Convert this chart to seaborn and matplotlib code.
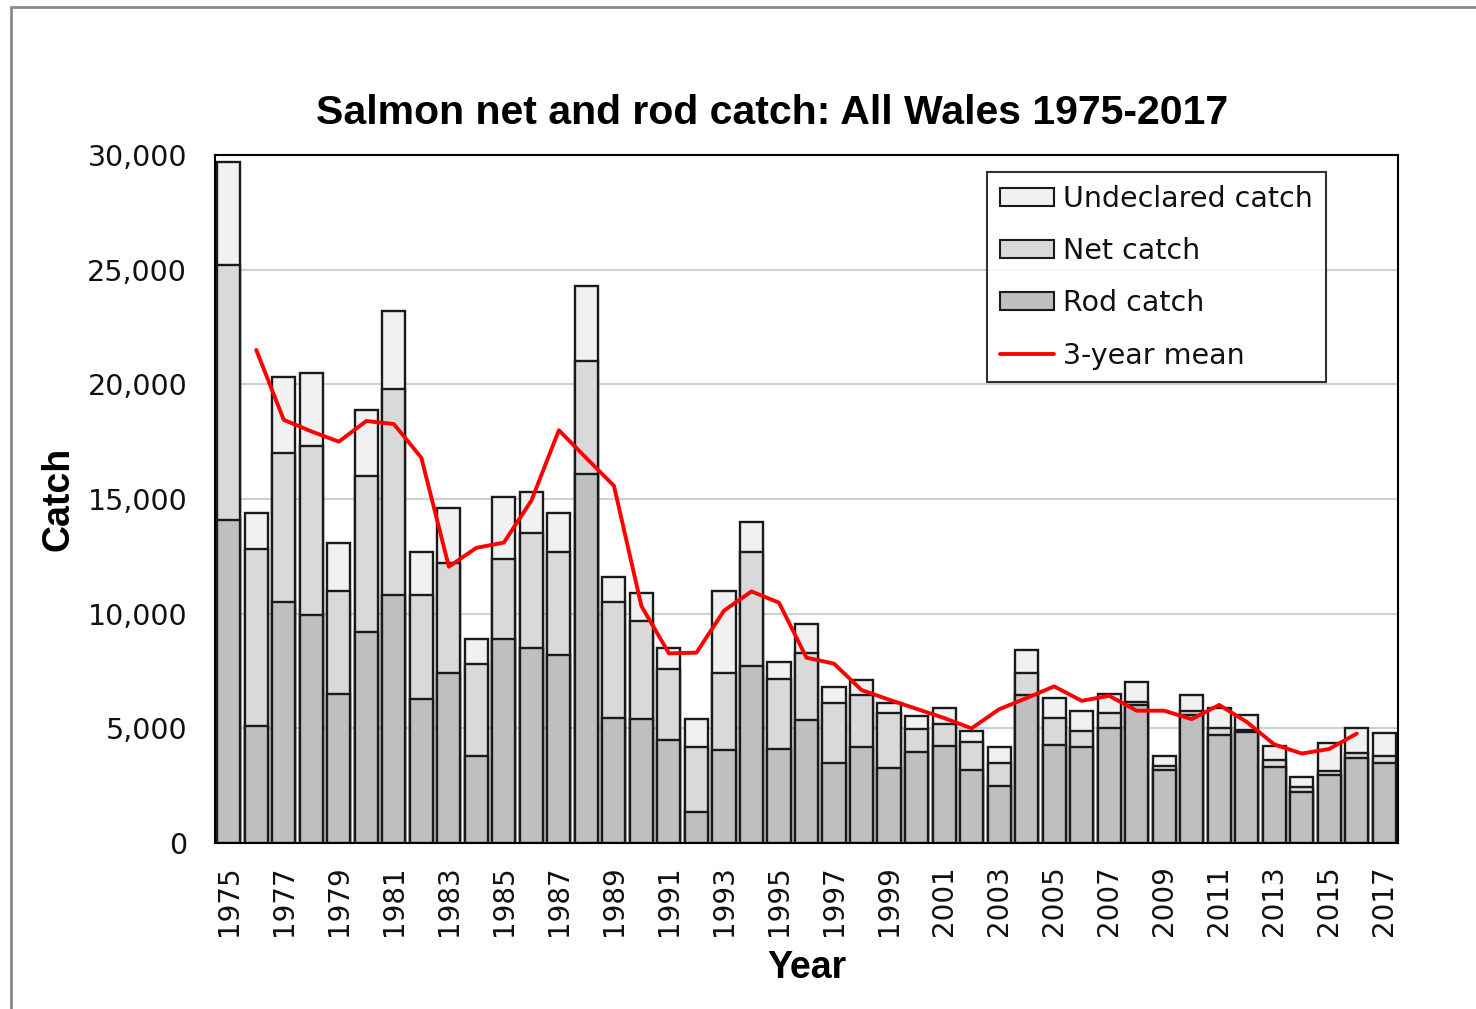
import numpy as np
import pandas as pd
import matplotlib
matplotlib.use("Agg")
import matplotlib.pyplot as plt
from matplotlib.patches import Patch
from matplotlib.lines import Line2D
import seaborn as sns

# catch by year (fish)
years = list(range(1975, 2018))
rod = [14100, 5100, 10500, 9950, 6500, 9200, 10800, 6300, 7400, 3800,
       8900, 8500, 8200, 16100, 5450, 5400, 4500, 1350, 4050, 7700,
       4100, 5350, 3500, 4200, 3250, 3950, 4250, 3200, 2500, 6450,
       4270, 4200, 5000, 6000, 3200, 5600, 4700, 4830, 3330, 2240,
       2970, 3690, 3500]
net = [11100, 7700, 6500, 7350, 4500, 6800, 9000, 4500, 4800, 4000,
       3500, 5000, 4500, 4900, 5050, 4300, 3100, 2850, 3350, 5000,
       3050, 2950, 2600, 2250, 2400, 1000, 950, 1200, 1000, 950,
       1170, 700, 650, 150, 150, 170, 300, 100, 270, 210,
       180, 240, 280]
undeclared = [4500, 1600, 3300, 3200, 2100, 2900, 3400, 1900, 2400, 1100,
              2700, 1800, 1700, 3300, 1100, 1200, 900, 1200, 3600, 1300,
              750, 1250, 700, 650, 450, 600, 700, 500, 700, 1000,
              900, 850, 850, 850, 450, 680, 870, 670, 630, 430,
              1220, 1070, 1000]

# 3-year running mean of total catch, 1976-2016
mean_years = list(range(1976, 2017))
mean_catch = [21500, 18450, 17950, 17500, 18400, 18270, 16800, 12050, 12870, 13100,
              14930, 18000, 16780, 15580, 10330, 8270, 8300, 10130, 10970, 10480,
              8080, 7820, 6670, 6250, 5850, 5450, 5000, 5830, 6320, 6830,
              6200, 6420, 5770, 5770, 5400, 6020, 5280, 4300, 3900, 4100,
              4770]

df = pd.DataFrame({"year": [str(y) for y in years], "rod": rod, "net": net,
                   "undeclared": undeclared})
df["net_top"] = df["rod"] + df["net"]
df["total"] = df["net_top"] + df["undeclared"]

sns.set_theme(style="white")
plt.rcParams["font.family"] = ["DejaVu Sans"]
plt.rcParams["text.color"] = "black"

fig = plt.figure(figsize=(14.76, 10.09), dpi=100)
ax = fig.add_axes([215 / 1476, 1 - 843 / 1009, 1183 / 1476, 688 / 1009])

c_und, c_net, c_rod = "#f1f1f1", "#d9d9d9", "#bfbfbf"
edge = "#1a1a1a"
for col, c in [("total", c_und), ("net_top", c_net), ("rod", c_rod)]:
    sns.barplot(data=df, x="year", y=col, color=c, saturation=1, width=0.84,
                edgecolor=edge, linewidth=1.7, errorbar=None, ax=ax, zorder=2)

mean_pos = [y - years[0] for y in mean_years]
sns.lineplot(x=mean_pos, y=mean_catch, color="#ff0000", linewidth=2.8, ax=ax, zorder=3)

ax.set_xlim(-0.5, len(years) - 0.5)
ax.set_ylim(0, 30000)
ax.set_yticks(range(0, 30001, 5000))
ax.set_yticklabels([f"{v:,}" for v in range(0, 30001, 5000)])
ax.set_xticks(range(0, len(years), 2))
ax.set_xticklabels([str(y) for y in years[::2]], rotation=90)
ax.tick_params(axis="y", length=0, pad=20, labelsize=20.5, labelcolor="#111111")
ax.tick_params(axis="x", length=0, pad=16, labelsize=20, labelcolor="#111111")

ax.yaxis.grid(True, color="#d0d0d0", linewidth=1.5, zorder=0)
ax.set_axisbelow(True)
for s in ax.spines.values():
    s.set_color("black")
    s.set_linewidth(1.5)

ax.set_xlabel("Year", fontsize=27, fontweight="bold", family="Liberation Sans",
              color="black")
ax.set_ylabel("Catch", fontsize=27, fontweight="bold", family="Liberation Sans",
              color="black")
ax.xaxis.set_label_coords(0.5, -(950 - 843) / 688)
ax.yaxis.set_label_coords((76 - 215) / 1183, 0.5)

fig.text(772 / 1476, 1 - 113 / 1009, "Salmon net and rod catch: All Wales 1975-2017",
         ha="center", va="center", fontsize=29.5, fontweight="bold",
         family="Liberation Sans", color="black")

handles = [Patch(facecolor=c_und, edgecolor=edge, linewidth=1.5),
           Patch(facecolor=c_net, edgecolor=edge, linewidth=1.5),
           Patch(facecolor=c_rod, edgecolor=edge, linewidth=1.5),
           Line2D([], [], color="#ff0000", linewidth=2.8)]
labels = ["Undeclared catch", "Net catch", "Rod catch", "3-year mean"]
leg = ax.legend(handles, labels, loc="upper left", bbox_to_anchor=(0.653, 0.975),
                borderaxespad=0, fontsize=20.5, frameon=True, fancybox=False,
                handlelength=1.9, handleheight=0.6, handletextpad=0.3,
                labelspacing=0.85, borderpad=0.45)
leg.get_frame().set_edgecolor("black")
leg.get_frame().set_linewidth(1.5)
for t in leg.get_texts():
    t.set_color("#111111")

# outer chart border (top and left only visible)
fig.add_artist(Line2D([11 / 1476, 1], [1 - 7 / 1009] * 2, transform=fig.transFigure,
                      color="#8a8a8a", linewidth=2))
fig.add_artist(Line2D([11 / 1476] * 2, [0, 1 - 7 / 1009], transform=fig.transFigure,
                      color="#8a8a8a", linewidth=2))

fig.savefig("out.png", dpi=100)
